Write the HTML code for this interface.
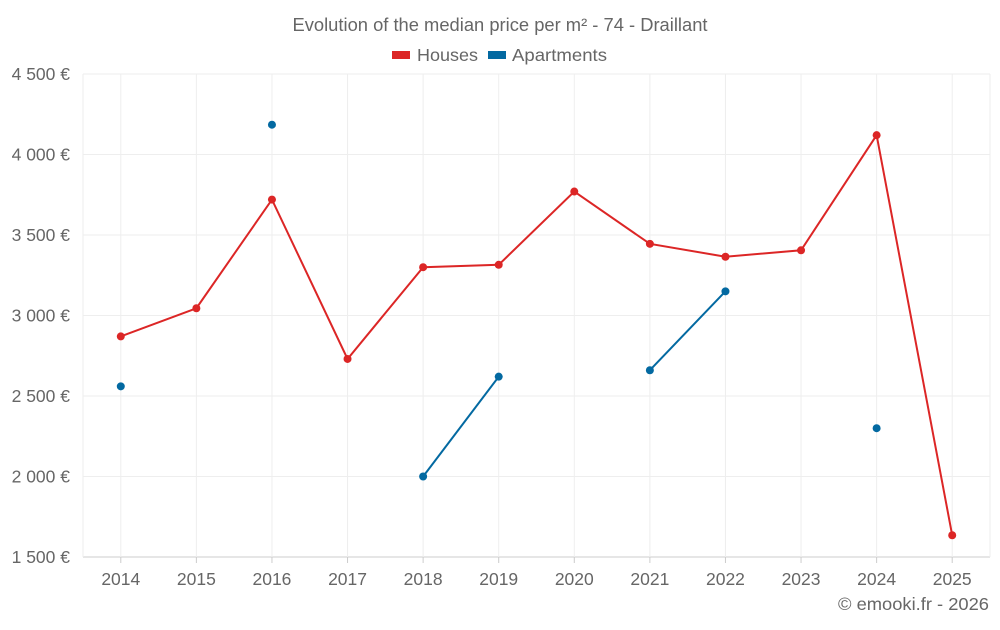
<!DOCTYPE html>
<html><head><meta charset="utf-8"><style>
body{margin:0;background:#fff;font-family:"Liberation Sans",sans-serif;}
svg text{font-family:"Liberation Sans",sans-serif;fill:#666;}
</style></head><body>
<svg id="chart" width="1000" height="625" xmlns="http://www.w3.org/2000/svg">
<text x="500" y="31" text-anchor="middle" font-size="18" textLength="415" lengthAdjust="spacingAndGlyphs">Evolution of the median price per m² - 74 - Draillant</text>
<g>
<g><rect x="392" y="51" width="18" height="8" fill="#dc2626"/><text x="417" y="61" font-size="17.5" textLength="61" lengthAdjust="spacingAndGlyphs">Houses</text></g>
<g><rect x="488" y="51" width="18" height="8" fill="#0369a1"/><text x="512" y="61" font-size="17.5" textLength="95" lengthAdjust="spacingAndGlyphs">Apartments</text></g>
</g>
<g id="grid"></g>
<g id="axes"></g>
<g id="series"></g>
<text x="989" y="610" text-anchor="end" font-size="17.5" textLength="151" lengthAdjust="spacingAndGlyphs">© emooki.fr - 2026</text>
</svg>
<script>
const categories=["2014","2015","2016","2017","2018","2019","2020","2021","2022","2023","2024","2025"];
const houses=[2870,3045,3720,2730,3300,3315,3770,3445,3365,3405,4120,1635];
const apartments=[2560,null,4185,null,2000,2620,null,2660,3150,null,2300,null];
const yTicks=[1500,2000,2500,3000,3500,4000,4500];
const yTickLabels=["1 500 €","2 000 €","2 500 €","3 000 €","3 500 €","4 000 €","4 500 €"];
const NS="http://www.w3.org/2000/svg";
const L=83,R=990,T=74,B=557;
const step=(R-L)/categories.length;
const x=i=>L+step*(i+0.5);
const y=v=>B-(v-1500)/3000*(B-T);
function mk(tag,attrs,parent){const e=document.createElementNS(NS,tag);for(const k in attrs)e.setAttribute(k,attrs[k]);parent.appendChild(e);return e;}
const grid=document.getElementById('grid'),axes=document.getElementById('axes'),series=document.getElementById('series');
yTicks.forEach((t,i)=>{
 const l=mk('line',{x1:L,x2:R,y1:y(t),y2:y(t),stroke:i===0?'#ccc':'#eee'},grid);
 
 
 const tx=mk('text',{x:70,y:y(t)+6,'text-anchor':'end','font-size':17.5},axes);
 tx.textContent=yTickLabels[i];
 
 
});
[L,R].forEach(px=>{
 const l=mk('line',{x1:px,x2:px,y1:T,y2:B,stroke:'#eee'},grid);
 
 
});
categories.forEach((c,i)=>{
 const g=mk('line',{x1:x(i),x2:x(i),y1:T,y2:B,stroke:'#eee'},grid);
 
 
 const tk=mk('line',{x1:x(i),x2:x(i),y1:B,y2:B+6,stroke:'#ccc'},axes);
 
 
 const tx=mk('text',{x:x(i),y:585,'text-anchor':'middle','font-size':17.5},axes);
 tx.textContent=c;
 
 
});
function draw(data,color,name){
 let seg=[];
 const flush=()=>{if(seg.length>1){const p=mk('polyline',{points:seg.join(' '),fill:'none',stroke:color,'stroke-width':2},series);
 
 }seg=[];};
 data.forEach((v,i)=>{if(v==null){flush();return;}seg.push(x(i)+','+y(v));});
 flush();
 data.forEach((v,i)=>{if(v==null)return;
  const c=mk('circle',{cx:x(i),cy:y(v),r:4,fill:color},series);
  
  
 });
}
draw(houses,'#dc2626','houses');
draw(apartments,'#0369a1','apartments');
</script>
</body></html>
